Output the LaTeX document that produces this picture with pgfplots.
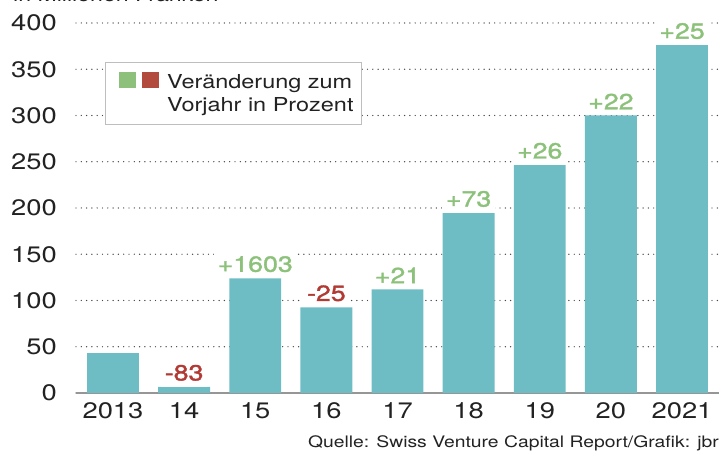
\documentclass[border=0pt]{standalone}
\usepackage{fontspec}
\setmainfont{TeX Gyre Heros}[FakeStretch=1.22]
\newfontfamily\labelfont{TeX Gyre Heros}[FakeStretch=1.22, FakeBold=1.5]
\usepackage{pgfplots}
\pgfplotsset{compat=1.18}
\definecolor{barcol}{RGB}{111,189,196}
\definecolor{gtext}{RGB}{140,193,122}
\definecolor{rtext}{RGB}{178,58,52}
\definecolor{gsq}{RGB}{141,192,122}
\definecolor{rsq}{RGB}{178,74,62}
\definecolor{txt}{RGB}{34,34,34}
\definecolor{gridc}{RGB}{70,70,70}
\definecolor{axc}{RGB}{150,150,150}
\definecolor{legc}{RGB}{190,190,190}
\begin{document}
\begin{tikzpicture}[x=1bp,y=1bp]
\begin{axis}[
  at={(0,0)}, anchor=south west,
  scale only axis, width=643bp, height=370bp,
  xmin=-0.52, xmax=8.52, ymin=0, ymax=400,
  axis lines=left,
  axis line style={-},
  y axis line style={draw=none},
  x axis line style={draw=axc, line width=2bp},
  major tick length=0pt,
  ytick={0,50,...,400},
  xtick={0,...,8},
  xticklabels={2013,14,15,16,17,18,19,20,2021},
  ymajorgrids,
  major grid style={draw=gridc, line width=1.4bp, line cap=round, dash pattern=on 0bp off 5.3bp},
  tick label style={font=\fontsize{22.5}{22.5}\selectfont, text=txt},
  /pgf/number format/assume math mode=true,
  yticklabel style={anchor=east, inner sep=0pt, xshift=-19bp},
  xticklabel style={anchor=north, inner sep=0pt, yshift=-9bp},
  clip=false,
]
\addplot[ybar, bar width=0.73, bar shift=0pt, fill=barcol, draw=none]
  coordinates {(0,43) (1,6.5) (2,124) (3,92.5) (4,112) (5,194.5) (6,246.5) (7,300) (8,376)};
\addplot[draw=none, mark=none, forget plot, nodes near coords, point meta=explicit symbolic,
  nodes near coords style={anchor=south, fill=white, inner xsep=4bp, inner ysep=6bp,
    font=\labelfont\fontsize{22}{22}\selectfont, text=gtext}]
  coordinates {(2,124) [+1603] (4,112) [+21] (5,194.5) [+73] (6,246.5) [+26] (7,300) [+22] (8,376) [+25]};
\addplot[draw=none, mark=none, forget plot, nodes near coords, point meta=explicit symbolic,
  nodes near coords style={anchor=south, fill=white, inner xsep=4bp, inner ysep=6bp,
    font=\labelfont\fontsize{22}{22}\selectfont, text=rtext}]
  coordinates {(1,6.5) [-83] (3,92.5) [-25]};
\end{axis}
% legend
\draw[draw=legc, fill=white, line width=0.8bp] (29,269) rectangle (285,331);
\fill[gsq] (43,305) rectangle (60,321);
\fill[rsq] (66,305) rectangle (83,321);
\node[anchor=base west, inner sep=0pt, text=txt, font=\fontsize{19.3}{19.3}\selectfont] at (91,304) {Veränderung zum};
\node[anchor=base west, inner sep=0pt, text=txt, font=\fontsize{19.3}{19.3}\selectfont] at (91,281) {Vorjahr in Prozent};
% source
\node[anchor=base east, inner sep=0pt, text=txt, font=\fontsize{15.9}{15.9}\selectfont] at (643,-55) {Quelle: Swiss Venture Capital Report/Grafik: jbr};
% cut-off unit label
\begin{scope}
\clip (-76,-63) rectangle (643,393);
\node[anchor=base west, inner sep=0pt, text=txt, font=\fontsize{19}{19}\selectfont] at (-63,391) {in Millionen Franken};
\end{scope}
\pgfresetboundingbox
\useasboundingbox (-76,-63) rectangle (643,393);
\end{tikzpicture}
\end{document}
